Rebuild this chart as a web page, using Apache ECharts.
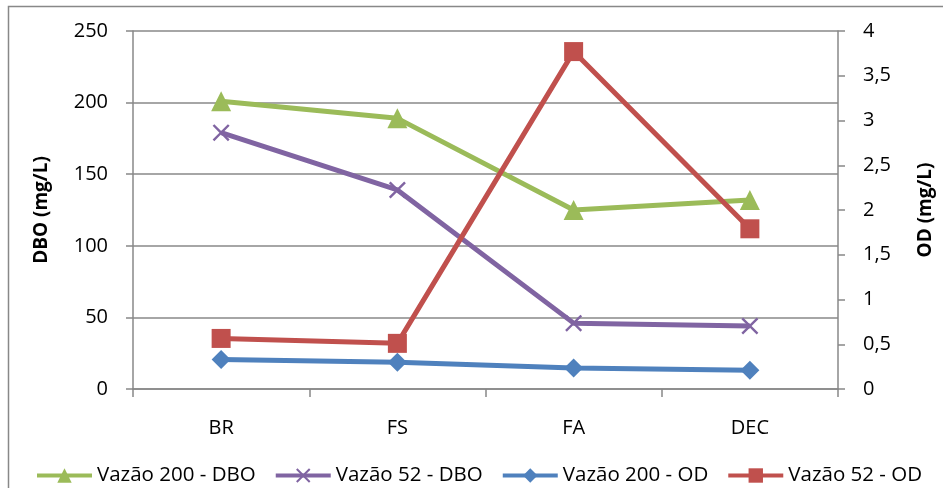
<!DOCTYPE html>
<html><head><meta charset="utf-8">
<script src="https://cdn.jsdelivr.net/npm/echarts@6/dist/echarts.min.js"></script>
<style>html,body{margin:0;padding:0;background:#fff}#c{width:943px;height:488px}</style>
</head><body><div id="c"></div>
<script>
const categories = ['BR', 'FS', 'FA', 'DEC'];
const vazao200DBO = [201, 189, 125, 132];
const vazao52DBO = [179, 139, 46, 44];
const vazao200OD = [0.33, 0.30, 0.235, 0.21];
const vazao52OD = [0.565, 0.51, 3.77, 1.79];
const leftTicks = [0, 250, 50];
const rightTicks = [0, 4, 0.5];

const FONT = '"Open Sans", "Liberation Sans", sans-serif';
const crossPath = 'path://M0,1L1,0L5,4L9,0L10,1L6,5L10,9L9,10L5,6L1,10L0,9L4,5Z';

const chart = echarts.init(document.getElementById('c'), null, {renderer: 'canvas'});
function ser(name, data, color, symbol, size, yIdx) {
  return {
    name, type: 'line', data, yAxisIndex: yIdx,
    symbol, symbolSize: size,
    lineStyle: {color, width: 5},
    itemStyle: {color},
    animation: false
  };
}
chart.setOption({
  animation: false,
  textStyle: {fontFamily: FONT},
  graphic: [{type: 'rect', shape: {x: 8.5, y: 6.5, width: 1000, height: 1000}, style: {fill: 'none', stroke: '#888', lineWidth: 1.5}, z: -1}],
  grid: {left: 133, right: 100.5, top: 31, bottom: 99},
  legend: {
    top: 465, left: 35, right: 0, padding: 0, itemGap: 18, itemWidth: 55, itemHeight: 18,
    lineStyle: {width: 4},
    textStyle: {fontSize: 20.5, color: '#000', fontFamily: FONT},
    data: ['Vazão 200 - DBO', 'Vazão 52 - DBO', 'Vazão 200 - OD', 'Vazão 52 - OD']
  },
  xAxis: {
    type: 'category', data: categories, boundaryGap: true,
    axisLine: {lineStyle: {color: '#888', width: 1.5}},
    axisTick: {show: true, length: 8, lineStyle: {color: '#888', width: 1.5}},
    axisLabel: {color: '#000', fontSize: 20, margin: 29, fontFamily: FONT}
  },
  yAxis: [{
    type: 'value', min: leftTicks[0], max: leftTicks[1], interval: leftTicks[2],
    name: 'DBO (mg/L)', nameLocation: 'middle', nameGap: 82, nameRotate: 90,
    nameTextStyle: {fontWeight: 'bold', fontSize: 19, color: '#000', fontFamily: FONT},
    axisLine: {show: true, lineStyle: {color: '#888', width: 1.5}},
    axisTick: {show: true, length: 7, lineStyle: {color: '#888', width: 1.5}},
    splitLine: {show: true, lineStyle: {color: '#888', width: 1.5}},
    axisLabel: {color: '#000', fontSize: 20, margin: 25, fontFamily: FONT}
  }, {
    type: 'value', min: rightTicks[0], max: rightTicks[1], interval: rightTicks[2], position: 'right',
    name: 'OD (mg/L)', nameLocation: 'middle', nameGap: 78, nameRotate: 90,
    nameTextStyle: {fontWeight: 'bold', fontSize: 19, color: '#000', fontFamily: FONT},
    axisLine: {show: true, lineStyle: {color: '#888', width: 1.5}},
    axisTick: {show: true, length: 7, lineStyle: {color: '#888', width: 1.5}},
    splitLine: {show: false},
    axisLabel: {color: '#000', fontSize: 20, margin: 25, fontFamily: FONT, formatter: v => String(v).replace('.', ',')}
  }],
  series: [
    ser('Vazão 200 - DBO', vazao200DBO, '#9BBB59', 'triangle', 20, 0),
    ser('Vazão 52 - DBO', vazao52DBO, '#8064A2', crossPath, 17, 0),
    ser('Vazão 200 - OD', vazao200OD, '#4F81BD', 'diamond', 19, 1),
    ser('Vazão 52 - OD', vazao52OD, '#C0504D', 'rect', 19, 1)
  ]
});
</script></body></html>
